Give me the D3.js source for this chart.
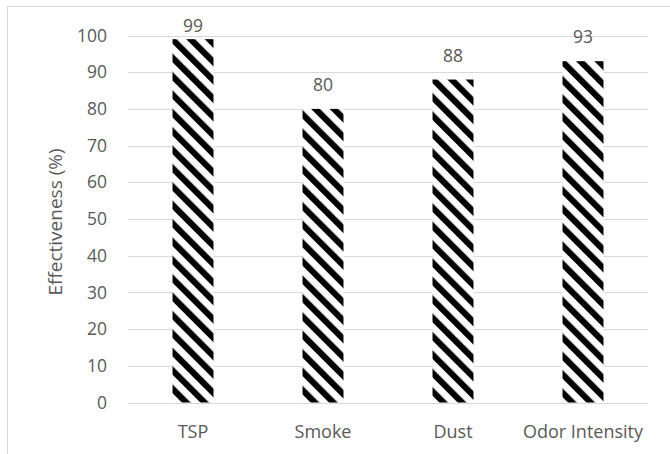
<!DOCTYPE html>
<html>
<head>
<meta charset="utf-8">
<script src="https://cdn.jsdelivr.net/npm/d3@7/dist/d3.min.js"></script>
<style>
  html, body { margin: 0; padding: 0; background: #fff; }
  svg { display: block; }
  text { font-family: "Open Sans", "Liberation Sans", sans-serif; fill: #595959; }
</style>
</head>
<body>
<svg id="chart" width="670" height="454"></svg>
<script>
// Pollutant categories and measured effectiveness (%)
const categories = ["TSP", "Smoke", "Dust", "Odor Intensity"];
const effectiveness = [99, 80, 88, 93];
const yTicks = [0, 10, 20, 30, 40, 50, 60, 70, 80, 90, 100];
const yTitle = "Effectiveness (%)";

const svg = d3.select("#chart");
const plot = { left: 128, right: 648, top: 35.5, bottom: 402.5 };

// Chart frame
svg.append("rect")
  .attr("x", 7.5).attr("y", 6.5)
  .attr("width", 700).attr("height", 500)
  .attr("fill", "none").attr("stroke", "#d9d9d9").attr("stroke-width", 1);

// Hatch fill: dark downward diagonal stripes
const defs = svg.append("defs");
const period = 13;
const pat = defs.append("pattern")
  .attr("id", "hatch")
  .attr("patternUnits", "userSpaceOnUse")
  .attr("width", period).attr("height", period)
  .attr("patternTransform", "rotate(-45)");
pat.append("rect").attr("width", period).attr("height", period).attr("fill", "#fff");
pat.append("rect").attr("x", 0).attr("width", 6.2).attr("height", period).attr("fill", "#000");

const x = d3.scaleBand()
  .domain(categories)
  .range([plot.left, plot.right])
  .paddingInner(0.685)
  .paddingOuter(0.3425);

const y = d3.scaleLinear()
  .domain([0, 100])
  .range([plot.bottom, plot.top]);

// Horizontal gridlines
svg.append("g")
  .selectAll("line")
  .data(yTicks)
  .join("line")
  .attr("x1", plot.left).attr("x2", plot.right)
  .attr("y1", d => Math.round(y(d)) + 0.5)
  .attr("y2", d => Math.round(y(d)) + 0.5)
  .attr("stroke", "#d9d9d9").attr("stroke-width", 1);

// Y axis tick labels
const yAxis = d3.axisLeft(y).tickValues(yTicks).tickSize(0).tickPadding(0);
const gy = svg.append("g")
  .attr("transform", `translate(${plot.left - 21},0)`)
  .call(yAxis);
gy.select(".domain").remove();
gy.selectAll("text")
  .style("font-family", '"Open Sans", sans-serif')
  .attr("font-size", 17.5).attr("fill", "#595959");

// Category labels
const xAxis = d3.axisBottom(x).tickSize(0).tickPadding(0);
const gx = svg.append("g")
  .attr("transform", `translate(0,${plot.bottom})`)
  .call(xAxis);
gx.select(".domain").remove();
gx.selectAll("text")
  .style("font-family", '"Open Sans", sans-serif')
  .attr("font-size", 18).attr("fill", "#595959")
  .attr("dy", null)
  .attr("y", 35.5);

// Bars
svg.append("g")
  .selectAll("rect")
  .data(categories.map((c, i) => ({ c, v: effectiveness[i] })))
  .join("rect")
  .attr("x", d => x(d.c))
  .attr("width", x.bandwidth())
  .attr("y", d => y(d.v))
  .attr("height", d => y(0) - y(d.v))
  .attr("fill", "url(#hatch)");

// Value labels above bars
svg.append("g")
  .selectAll("text")
  .data(categories.map((c, i) => ({ c, v: effectiveness[i] })))
  .join("text")
  .attr("x", d => x(d.c) + x.bandwidth() / 2)
  .attr("y", d => Math.max(y(d.v) - 18, 32))
  .attr("text-anchor", "middle")
  .attr("font-size", 17.5)
  .text(d => d.v);

// Y axis title
svg.append("text")
  .attr("transform", `translate(62,${(plot.top + plot.bottom) / 2 + 3}) rotate(-90)`)
  .attr("text-anchor", "middle")
  .attr("font-size", 19)
  .text(yTitle);
</script>
</body>
</html>
